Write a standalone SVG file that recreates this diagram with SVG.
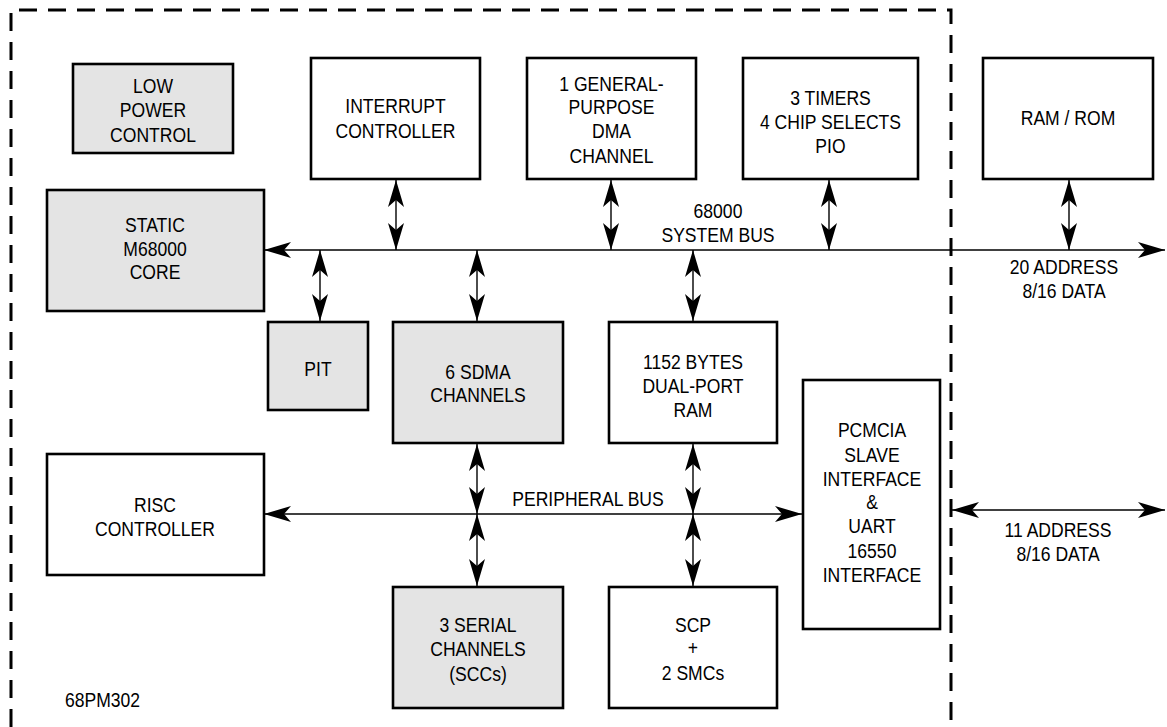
<svg xmlns="http://www.w3.org/2000/svg" width="1167" height="727" viewBox="0 0 1167 727">
<style>
.box{fill:#fff;stroke:#000;stroke-width:2.6}
.sh{fill:#e4e4e4;stroke:#000;stroke-width:2.6}
.t{font-family:"Liberation Sans",Arial,sans-serif;font-size:19.5px;fill:#000;text-anchor:middle;transform-box:fill-box;transform-origin:center;transform:scaleX(0.9)}
.c{stroke:#000;stroke-width:1.4;fill:none;marker-start:url(#ah);marker-end:url(#ah)}
.border{fill:none;stroke:#000;stroke-width:3;stroke-dasharray:18 11}
</style>
<defs>
<marker id="ah" markerUnits="userSpaceOnUse" markerWidth="30" markerHeight="20" viewBox="-28 -9 30 18" refX="0" refY="0" orient="auto-start-reverse">
<path d="M0,0 L-27,-8 L-20,0 L-27,8 Z" fill="#000"/>
</marker>
</defs>
<rect width="1167" height="727" fill="#fff"/>
<path class="border" d="M11,727 L11,10 L951,10 L951,727"/>
<g id="connectors">
<line class="c" x1="264" y1="250" x2="1165" y2="250"/>
<line class="c" x1="264" y1="514" x2="802" y2="514"/>
<line class="c" x1="952" y1="510" x2="1165" y2="510"/>
<line class="c" x1="396" y1="180" x2="396" y2="250"/>
<line class="c" x1="611" y1="180" x2="611" y2="250"/>
<line class="c" x1="829" y1="180" x2="829" y2="250"/>
<line class="c" x1="1069" y1="180" x2="1069" y2="250"/>
<line class="c" x1="320" y1="250" x2="320" y2="321"/>
<line class="c" x1="477" y1="250" x2="477" y2="321"/>
<line class="c" x1="693" y1="250" x2="693" y2="321"/>
<line class="c" x1="477" y1="444" x2="477" y2="514"/>
<line class="c" x1="477" y1="514" x2="477" y2="586"/>
<line class="c" x1="693" y1="444" x2="693" y2="514"/>
<line class="c" x1="693" y1="514" x2="693" y2="586"/>
</g>
<g id="lowpower"><rect class="sh" x="73" y="64" width="160" height="89"/>
<text class="t" x="153" y="93">LOW</text><text class="t" x="153" y="117">POWER</text><text class="t" x="153" y="142">CONTROL</text></g>
<g id="interrupt"><rect class="box" x="311" y="58" width="169" height="121"/>
<text class="t" x="395.5" y="113">INTERRUPT</text><text class="t" x="395.5" y="138">CONTROLLER</text></g>
<g id="dma"><rect class="box" x="527" y="58" width="169" height="121"/>
<text class="t" x="611.5" y="91">1 GENERAL-</text><text class="t" x="611.5" y="114">PURPOSE</text><text class="t" x="611.5" y="138">DMA</text><text class="t" x="611.5" y="163">CHANNEL</text></g>
<g id="timers"><rect class="box" x="743" y="58" width="175" height="121"/>
<text class="t" x="830.5" y="105">3 TIMERS</text><text class="t" x="830.5" y="129">4 CHIP SELECTS</text><text class="t" x="830.5" y="153">PIO</text></g>
<g id="ramrom"><rect class="box" x="983" y="58" width="170" height="121"/>
<text class="t" x="1068" y="125">RAM / ROM</text></g>
<g id="core"><rect class="sh" x="47" y="190" width="217" height="121"/>
<text class="t" x="155" y="232">STATIC</text><text class="t" x="155" y="256">M68000</text><text class="t" x="155" y="279">CORE</text></g>
<g id="sysbus-label"><text class="t" x="718" y="218">68000</text><text class="t" x="718" y="242">SYSTEM BUS</text></g>
<g id="ext1-label"><text class="t" x="1064" y="274">20 ADDRESS</text><text class="t" x="1064" y="298">8/16 DATA</text></g>
<g id="pit"><rect class="sh" x="268" y="322" width="100" height="88"/>
<text class="t" x="318" y="376">PIT</text></g>
<g id="sdma"><rect class="sh" x="393" y="322" width="170" height="121"/>
<text class="t" x="478" y="379">6 SDMA</text><text class="t" x="478" y="402">CHANNELS</text></g>
<g id="dpram"><rect class="box" x="609" y="322" width="168" height="121"/>
<text class="t" x="693" y="369">1152 BYTES</text><text class="t" x="693" y="393">DUAL-PORT</text><text class="t" x="693" y="417">RAM</text></g>
<g id="risc"><rect class="box" x="47" y="454" width="217" height="121"/>
<text class="t" x="155" y="512">RISC</text><text class="t" x="155" y="536">CONTROLLER</text></g>
<g id="pbus-label"><text class="t" x="588" y="506">PERIPHERAL BUS</text></g>
<g id="pcmcia"><rect class="box" x="803" y="380" width="137" height="249"/>
<text class="t" x="872" y="437">PCMCIA</text><text class="t" x="872" y="462">SLAVE</text><text class="t" x="872" y="486">INTERFACE</text><text class="t" x="872" y="509">&amp;</text><text class="t" x="872" y="533">UART</text><text class="t" x="872" y="558">16550</text><text class="t" x="872" y="582">INTERFACE</text></g>
<g id="ext2-label"><text class="t" x="1058" y="537">11 ADDRESS</text><text class="t" x="1058" y="561">8/16 DATA</text></g>
<g id="scc"><rect class="sh" x="393" y="587" width="170" height="121"/>
<text class="t" x="478" y="632">3 SERIAL</text><text class="t" x="478" y="656">CHANNELS</text><text class="t" x="478" y="681">(SCCs)</text></g>
<g id="scp"><rect class="box" x="609" y="587" width="168" height="121"/>
<text class="t" x="693" y="632">SCP</text><text class="t" x="693" y="655">+</text><text class="t" x="693" y="680">2 SMCs</text></g>
<text class="t" x="102.5" y="707">68PM302</text>
</svg>
